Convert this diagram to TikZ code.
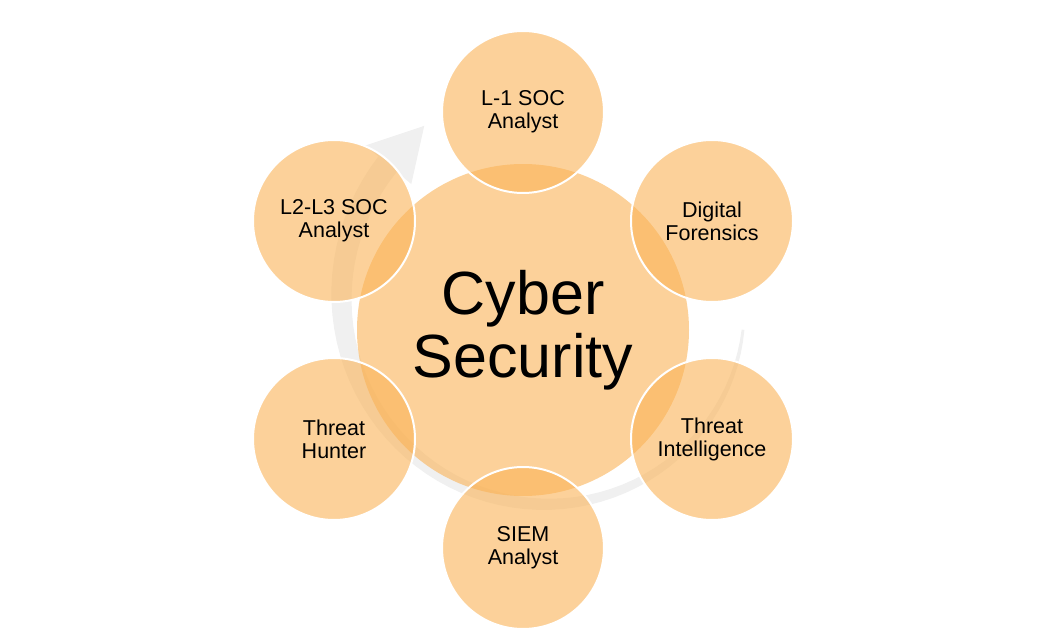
\documentclass[tikz,border=0pt]{standalone}
\usepackage{fontspec}
\setmainfont{Liberation Sans}
\definecolor{peach}{RGB}{250,179,87}
\definecolor{ringgray}{RGB}{240,240,240}
\tikzset{
  core/.style={circle, fill=peach, fill opacity=0.6, text opacity=1,
    minimum size=332pt, inner sep=0pt, align=center,
    font={\fontsize{61}{63}\selectfont}},
  role/.style={circle, fill=peach, fill opacity=0.6, text opacity=1,
    draw=white, draw opacity=1, line width=2pt,
    minimum size=162pt, inner sep=0pt, align=center,
    font={\fontsize{21.5}{23}\selectfont}},
  ring/.style={fill=ringgray, draw=none},
}

\begin{document}
\begin{tikzpicture}[x=1pt,y=1pt]
    \useasboundingbox (0,0) rectangle (1037,633);
    % faint cycle arrow behind the circles, thin tail at the right
    \coordinate (hub) at (553,330);
    \fill [ring] plot [domain=-8:-220, samples=60]
        ({553+(192-0.1636*\x)*cos(\x)}, {330+(192-0.1636*\x)*sin(\x)})
      -- plot [domain=-220:-8, samples=60]
        ({553+(190-0.0636*\x)*cos(\x)}, {330+(190-0.0636*\x)*sin(\x)})
      -- cycle;
    \fill [ring] ([shift={(hub)}]140:245) -- ([shift={(hub)}]126:219)
      -- ([shift={(hub)}]140:185) -- cycle;

    \node [core] (cyber) at (523,303) {Cyber\\Security};

    \node [role] (l1soc) at (523,521) {L-1 SOC\\Analyst};
    \node [role] (forensics) at (712,412) {Digital\\Forensics};
    \node [role] (intel) at (712,194) {Threat\\Intelligence};
    \node [role] (siem) at (523,85) {SIEM\\Analyst};
    \node [role] (hunter) at (334,194) {Threat\\Hunter};
    \node [role] (l2l3soc) at (334,412) {L2-L3 SOC\\Analyst};
\end{tikzpicture}
\end{document}
